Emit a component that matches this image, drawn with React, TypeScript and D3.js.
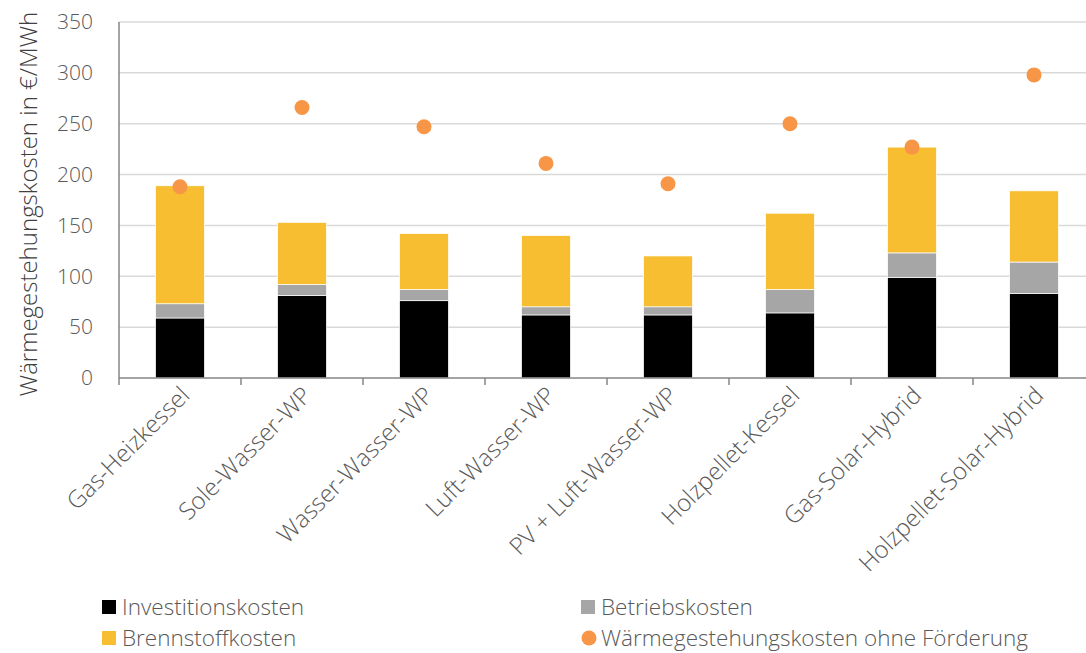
import * as d3 from 'd3';

const categories = [
    'Gas-Heizkessel',
    'Sole-Wasser-WP',
    'Wasser-Wasser-WP',
    'Luft-Wasser-WP',
    'PV + Luft-Wasser-WP',
    'Holzpellet-Kessel',
    'Gas-Solar-Hybrid',
    'Holzpellet-Solar-Hybrid',
];
const investition = [59, 81, 76, 62, 62, 64, 99, 83];
const betrieb = [14, 11, 11, 8, 8, 23, 24, 31];
const brennstoff = [116, 61, 55, 70, 50, 75, 104, 70];
const ohneFoerderung = [188, 266, 247, 211, 191, 250, 227, 298];
const yTicks = [0, 50, 100, 150, 200, 250, 300, 350];

const seriesKeys = ['investition', 'betrieb', 'brennstoff'] as const;
const colors: Record<string, string> = {
    investition: '#000000',
    betrieb: '#a6a6a6',
    brennstoff: '#f7be31',
};
const dotColor = '#f79646';
const textColor = '#595959';
const font = "'Segoe UI', 'Open Sans', sans-serif";

const width = 1086;
const height = 653;

export default function App() {
    const x = d3
        .scaleBand<string>()
        .domain(categories)
        .range([119, 1095])
        .paddingInner(0.6)
        .paddingOuter(0.3);
    const band = (1095 - 119) / categories.length;
    const y = d3.scaleLinear().domain([0, 350]).range([378, 22]);

    const rows = categories.map((c, i) => ({
        cat: c,
        investition: investition[i],
        betrieb: betrieb[i],
        brennstoff: brennstoff[i],
    }));
    const stacked = d3.stack<any>().keys(seriesKeys as any)(rows);

    const legend = [
        { label: 'Investitionskosten', color: colors.investition, x: 102, y: 607, dot: false },
        { label: 'Betriebskosten', color: colors.betrieb, x: 581, y: 607, dot: false },
        { label: 'Brennstoffkosten', color: colors.brennstoff, x: 102, y: 638, dot: false },
        { label: 'Wärmegestehungskosten ohne Förderung', color: dotColor, x: 581, y: 638, dot: true },
    ];

    return (
        <svg
            width={width}
            height={height}
            style={{ position: 'absolute', left: 0, top: 0, background: '#fff' }}
            fontFamily={font}
            fontWeight={300}
        >
            {yTicks.slice(1).map((t) => (
                <line key={t} x1={119} x2={width} y1={y(t)} y2={y(t)} stroke="#d9d9d9" strokeWidth={1.5} />
            ))}
            {yTicks.map((t) => (
                <text key={t} x={93} y={y(t)} dy="0.35em" textAnchor="end" fontSize={21} fill={textColor}>
                    {t}
                </text>
            ))}
            <text
                transform={`translate(37,${(y(0) + y(350)) / 2 + 4}) rotate(-90)`}
                textAnchor="middle"
                fontSize={24}
                fill="#404040"
            >
                Wärmegestehungskosten in €/MWh
            </text>

            {stacked.map((s) => (
                <g key={s.key} fill={colors[s.key]}>
                    {s.map((d, i) => (
                        <rect
                            key={i}
                            x={x(categories[i])}
                            width={x.bandwidth()}
                            y={y(d[1])}
                            height={y(d[0]) - y(d[1])}
                            stroke="#fff"
                            strokeWidth={0.7}
                        />
                    ))}
                </g>
            ))}

            <line x1={119} x2={119} y1={y(350)} y2={y(0)} stroke="#868686" strokeWidth={1.5} />
            <line x1={119} x2={width} y1={y(0)} y2={y(0)} stroke="#868686" strokeWidth={1.5} />
            {d3.range(categories.length + 1).map((i) => (
                <line
                    key={i}
                    x1={119 + i * band}
                    x2={119 + i * band}
                    y1={y(0)}
                    y2={y(0) + 7}
                    stroke="#868686"
                    strokeWidth={1.5}
                />
            ))}

            {ohneFoerderung.map((v, i) => (
                <circle
                    key={i}
                    cx={(x(categories[i]) ?? 0) + x.bandwidth() / 2}
                    cy={y(v)}
                    r={7.5}
                    fill={dotColor}
                />
            ))}

            {categories.map((c) => (
                <text
                    key={c}
                    transform={`translate(${(x(c) ?? 0) + x.bandwidth() / 2 + 11},${y(0) + 19}) rotate(-45)`}
                    textAnchor="end"
                    fontSize={24}
                    fill={textColor}
                >
                    {c}
                </text>
            ))}

            {legend.map((l) => (
                <g key={l.label}>
                    {l.dot ? (
                        <circle cx={l.x + 8} cy={l.y} r={7.5} fill={l.color} />
                    ) : (
                        <rect x={l.x} y={l.y - 7} width={14} height={14} fill={l.color} />
                    )}
                    <text x={l.x + 20} y={l.y} dy="0.35em" fontSize={22.5} fill={textColor}>
                        {l.label}
                    </text>
                </g>
            ))}
        </svg>
    );
}
